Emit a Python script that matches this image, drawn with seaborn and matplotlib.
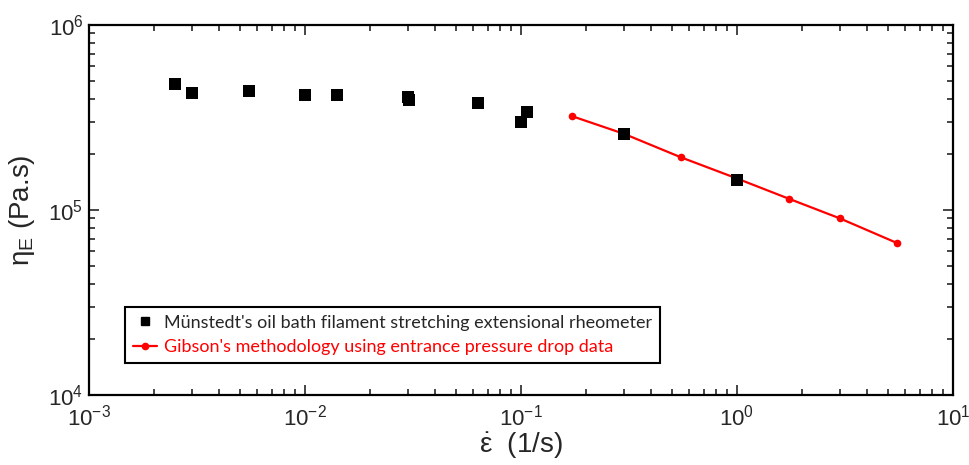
import numpy as np
import pandas as pd
import matplotlib
matplotlib.use("Agg")
import matplotlib.pyplot as plt
from matplotlib.ticker import LogLocator, NullFormatter
import seaborn as sb

# Münstedt oil bath filament stretching data
munstedt_rate = [0.0025, 0.0030, 0.0055, 0.010, 0.014, 0.030, 0.0303, 0.063, 0.107, 0.100, 0.30, 1.0]
munstedt_visc = [4.78e5, 4.29e5, 4.38e5, 4.19e5, 4.17e5, 4.10e5, 3.93e5, 3.80e5, 3.37e5, 3.00e5, 2.58e5, 1.45e5]

# Gibson's methodology (entrance pressure drop)
gibson_rate = [0.173, 0.30, 0.548, 1.0, 1.74, 3.0, 5.49]
gibson_visc = [3.21e5, 2.58e5, 1.93e5, 1.48e5, 1.15e5, 9.0e4, 6.64e4]

label_m = "Münstedt's oil bath filament stretching extensional rheometer"
label_g = "Gibson's methodology using entrance pressure drop data"

sb.set_style("ticks")
plt.rcParams['font.family'] = ['Liberation Sans', 'DejaVu Sans']
plt.rcParams['mathtext.fontset'] = 'custom'
plt.rcParams['mathtext.rm'] = 'Liberation Sans'
plt.rcParams['mathtext.it'] = 'Liberation Sans'

df_m = pd.DataFrame({"rate": munstedt_rate, "visc": munstedt_visc})
df_g = pd.DataFrame({"rate": gibson_rate, "visc": gibson_visc})

fig = plt.figure(figsize=(9.69, 4.65), dpi=100)
ax = fig.add_axes([89/969, 1-395/465, 864/969, 370/465])

sb.lineplot(data=df_g, x="rate", y="visc", color="red", marker="o", markersize=5.5,
            markeredgewidth=0, linewidth=1.6, ax=ax, zorder=2, sort=False)
sb.scatterplot(data=df_m, x="rate", y="visc", color="black", marker="s", s=70,
               linewidth=0, ax=ax, zorder=3)

ax.set_xscale("log")
ax.set_yscale("log")
ax.set_xlim(1e-3, 1e1)
ax.set_ylim(1e4, 1e6)

ax.xaxis.set_minor_locator(LogLocator(base=10, subs=np.arange(2, 10)))
ax.yaxis.set_minor_locator(LogLocator(base=10, subs=np.arange(2, 10)))
ax.xaxis.set_minor_formatter(NullFormatter())
ax.yaxis.set_minor_formatter(NullFormatter())

ax.tick_params(which="both", direction="in", top=True, right=True, width=1.2)
ax.tick_params(which="major", length=7, labelsize=16)
ax.tick_params(axis="x", which="major", pad=7)
ax.tick_params(axis="y", which="major", pad=4)
ax.tick_params(which="minor", length=4)
for s in ax.spines.values():
    s.set_linewidth(1.6)
    s.set_color("black")

ax.set_xlabel(r"$\mathregular{\dot{\varepsilon}}$  (1/s)", fontsize=20, labelpad=0)
ax.set_ylabel(r"$\mathregular{\eta_E}$ (Pa.s)", fontsize=20, labelpad=8)

h_m = plt.Line2D([], [], color="black", marker="s", linestyle="none", markersize=6)
h_g = plt.Line2D([], [], color="red", marker="o", markersize=4.5, linewidth=1.6)
leg = ax.legend([h_m, h_g], [label_m, label_g], loc="lower left",
                bbox_to_anchor=(36/864, 32/370), borderaxespad=0,
                prop={"family": ["Lato", "DejaVu Sans"], "size": 13},
                handlelength=1.3, handletextpad=0.4, fancybox=False,
                edgecolor="black", framealpha=1, borderpad=0.45, labelspacing=0.45)
leg.get_frame().set_linewidth(1.5)
leg.get_texts()[1].set_color("red")

plt.savefig("out.png", dpi=100)
